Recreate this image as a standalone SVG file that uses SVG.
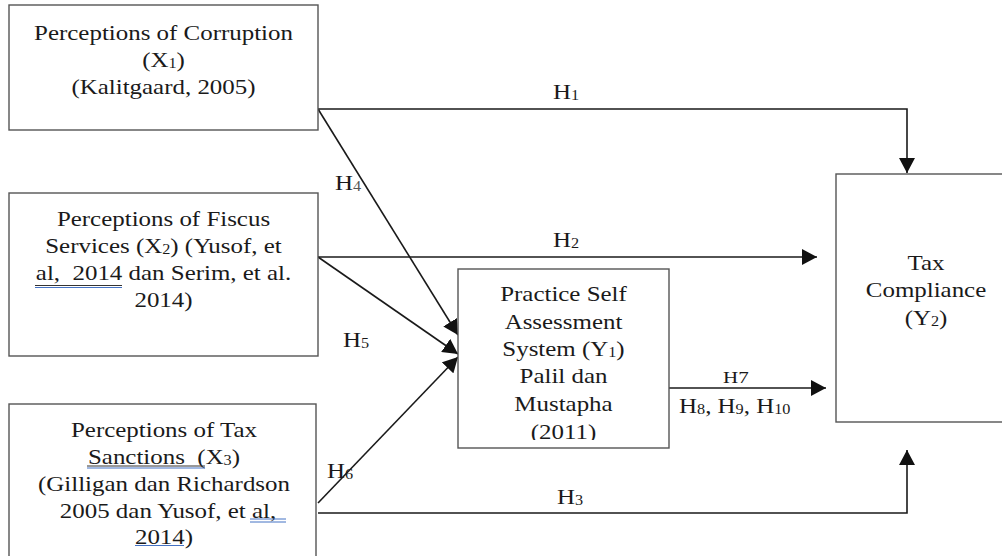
<svg xmlns="http://www.w3.org/2000/svg" width="1002" height="556" viewBox="0 0 1002 556">
<style>
.box{fill:#fff;stroke:#555;stroke-width:1.4}
.con{fill:none;stroke:#1a1a1a;stroke-width:1.6}
text{font-family:"Liberation Serif","Times New Roman",serif;font-size:21.5px;fill:#1a1a1a}
.c{text-anchor:middle}
.sm{font-size:17.5px}
.ul{stroke:#333;stroke-width:1}
.bl{stroke:#4472c4;stroke-width:1}
</style>
<defs>
<marker id="ah" markerUnits="userSpaceOnUse" markerWidth="16" markerHeight="16" refX="15" refY="8" orient="auto">
<path d="M0,0 L15,8 L0,16 z" fill="#111"/>
</marker>
<clipPath id="y1clip"><rect x="458" y="269" width="211" height="171"/></clipPath>
</defs>
<rect width="1002" height="556" fill="#fff"/>

<g id="connectors">
<polyline class="con" points="318,109 907,109 907,173" marker-end="url(#ah)"/>
<line class="con" x1="318" y1="257" x2="817" y2="257" marker-end="url(#ah)"/>
<polyline class="con" points="318,513 907,513 907,450" marker-end="url(#ah)"/>
<line class="con" x1="318" y1="109" x2="458" y2="335" marker-end="url(#ah)"/>
<line class="con" x1="318" y1="257" x2="458" y2="354" marker-end="url(#ah)"/>
<line class="con" x1="318" y1="503" x2="458" y2="357" marker-end="url(#ah)"/>
<line class="con" x1="669" y1="388" x2="826" y2="388" marker-end="url(#ah)"/>
</g>

<g id="labels">
<text transform="translate(553,99) scale(1.16,1)">H<tspan font-size="14" dy="1">1</tspan></text>
<text transform="translate(553,247) scale(1.16,1)">H<tspan font-size="14" dy="1">2</tspan></text>
<text transform="translate(557,504) scale(1.16,1)">H<tspan font-size="14" dy="1">3</tspan></text>
<text transform="translate(335,190) scale(1.16,1)">H<tspan font-size="14" dy="1" fill="#555">4</tspan></text>
<text transform="translate(343,347) scale(1.16,1)">H<tspan font-size="14" dy="1">5</tspan></text>
<text transform="translate(327,478) scale(1.16,1)">H<tspan font-size="14" dy="1">6</tspan></text>
<text class="sm" transform="translate(723,383) scale(1.2,1)">H7</text>
<text transform="translate(679,413) scale(1.16,1)">H<tspan font-size="14" dy="1">8</tspan><tspan dy="-1">, H</tspan><tspan font-size="14" dy="1">9</tspan><tspan dy="-1">, H</tspan><tspan font-size="14" dy="1">10</tspan></text>
</g>

<g id="x1">
<rect class="box" x="9" y="5" width="309" height="125"/>
<text class="c" transform="translate(163.5,39.5) scale(1.16,1)">Perceptions of Corruption</text>
<text class="c" transform="translate(163.5,67) scale(1.16,1)">(X<tspan font-size="14" dy="1">1</tspan><tspan dy="-1">)</tspan></text>
<text class="c" transform="translate(163.5,94) scale(1.16,1)">(Kalitgaard, 2005)</text>
</g>

<g id="x2">
<rect class="box" x="9" y="193" width="309" height="163"/>
<text class="c" transform="translate(163.5,226) scale(1.16,1)">Perceptions of Fiscus</text>
<text class="c" transform="translate(163.5,253) scale(1.16,1)">Services (X<tspan font-size="14" dy="1">2</tspan><tspan dy="-1">) (Yusof, et</tspan></text>
<text class="c" xml:space="preserve" transform="translate(163.5,280) scale(1.16,1)">al,  2014 dan Serim, et al.</text>
<text class="c" transform="translate(163.5,307) scale(1.16,1)">2014)</text>
<line class="ul" x1="35" y1="285.5" x2="122" y2="285.5"/>
<line class="bl" x1="35" y1="287.5" x2="122" y2="287.5"/>
</g>

<g id="x3">
<rect class="box" x="9" y="404" width="307" height="170"/>
<text class="c" transform="translate(164,437) scale(1.16,1)">Perceptions of Tax</text>
<text class="c" xml:space="preserve" transform="translate(164,464) scale(1.16,1)">Sanctions  (X<tspan font-size="14" dy="1">3</tspan><tspan dy="-1">)</tspan></text>
<text class="c" transform="translate(164,491) scale(1.16,1)">(Gilligan dan Richardson</text>
<text class="c" transform="translate(168,518) scale(1.16,1)">2005 dan Yusof, et al,</text>
<text class="c" transform="translate(164,544) scale(1.16,1)">2014)</text>
<line class="ul" x1="87" y1="466" x2="205" y2="466"/>
<line class="bl" x1="87" y1="468" x2="205" y2="468"/>
<line class="bl" x1="250" y1="519" x2="286" y2="519"/>
<line class="bl" x1="250" y1="522" x2="286" y2="522"/>
<line class="bl" x1="135" y1="545.5" x2="184" y2="545.5"/>
</g>

<g id="y1">
<rect class="box" x="458" y="269" width="211" height="179"/>
<g clip-path="url(#y1clip)">
<text class="c" transform="translate(563.5,301) scale(1.16,1)">Practice Self</text>
<text class="c" transform="translate(563.5,328.5) scale(1.16,1)">Assessment</text>
<text class="c" transform="translate(563.5,356) scale(1.16,1)">System (Y<tspan font-size="14" dy="1">1</tspan><tspan dy="-1">)</tspan></text>
<text class="c" transform="translate(563.5,383) scale(1.16,1)">Palil dan</text>
<text class="c" transform="translate(563.5,410.5) scale(1.16,1)">Mustapha</text>
<text class="c" transform="translate(563.5,439) scale(1.16,1)">(2011)</text>
</g>
</g>

<g id="y2">
<rect class="box" x="836" y="174" width="200" height="248"/>
<text class="c" transform="translate(926,270) scale(1.16,1)">Tax</text>
<text class="c" transform="translate(926,297) scale(1.16,1)">Compliance</text>
<text class="c" transform="translate(926,325) scale(1.16,1)">(Y<tspan font-size="14" dy="1">2</tspan><tspan dy="-1">)</tspan></text>
</g>
</svg>
